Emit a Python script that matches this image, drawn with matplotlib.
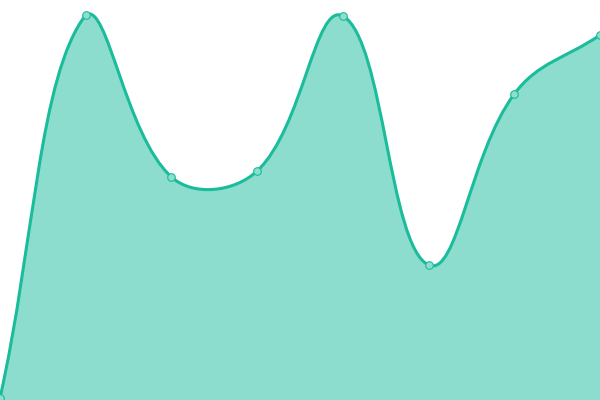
import numpy as np
import matplotlib
matplotlib.use("Agg")
import matplotlib.pyplot as plt
from matplotlib.path import Path
from matplotlib.patches import PathPatch

labels = ["1", "2", "3", "4", "5", "6", "7", "8"]
values = [2, 385, 223, 229, 384, 135, 306, 365]

line_color = "#1abc9c"
fill_color = (26/255, 188/255, 156/255, 0.5)
tension = 0.4

fig = plt.figure(figsize=(6, 4), dpi=100)
ax = fig.add_axes([0, 0, 1, 1])
ax.set_xlim(0, len(values) - 1)
ax.set_ylim(0, 400)
ax.axis("off")

x = np.arange(len(values))
pts = ax.transData.transform(np.column_stack([x, values]))
box = ax.bbox


def spline(prev, cur, nxt, t):
    d01 = np.hypot(*(cur - prev))
    d12 = np.hypot(*(nxt - cur))
    tot = d01 + d12
    s01 = d01 / tot if tot else 0
    s12 = d12 / tot if tot else 0
    return cur - t * s01 * (nxt - prev), cur + t * s12 * (nxt - prev)


def cap(p):
    return np.array([min(max(p[0], box.x0), box.x1),
                     min(max(p[1], box.y0), box.y1)])


n = len(pts)
ctrl_prev = []
ctrl_next = []
for i in range(n):
    prev = pts[max(i - 1, 0)]
    nxt = pts[min(i + 1, n - 1)]
    a, b = spline(prev, pts[i], nxt, tension)
    ctrl_prev.append(cap(a))
    ctrl_next.append(cap(b))

verts = [pts[0]]
codes = [Path.MOVETO]
for i in range(n - 1):
    verts += [ctrl_next[i], ctrl_prev[i + 1], pts[i + 1]]
    codes += [Path.CURVE4] * 3

inv = ax.transData.inverted()
verts_d = inv.transform(np.array(verts))

line_path = Path(verts_d, codes)
ax.add_patch(PathPatch(line_path, facecolor="none", edgecolor=line_color,
                       lw=2.2, zorder=3, capstyle="round", joinstyle="round"))

fill_verts = list(verts_d) + [[x[-1], 0], [x[0], 0], verts_d[0]]
fill_codes = codes + [Path.LINETO, Path.LINETO, Path.CLOSEPOLY]
ax.add_patch(PathPatch(Path(fill_verts, fill_codes), facecolor=fill_color,
                       edgecolor="none", zorder=2))

ax.scatter(x, values, s=30, facecolor="#8ddece", edgecolor=line_color,
           linewidth=0.8, zorder=4, clip_on=False)

fig.savefig("out.png", dpi=100)
